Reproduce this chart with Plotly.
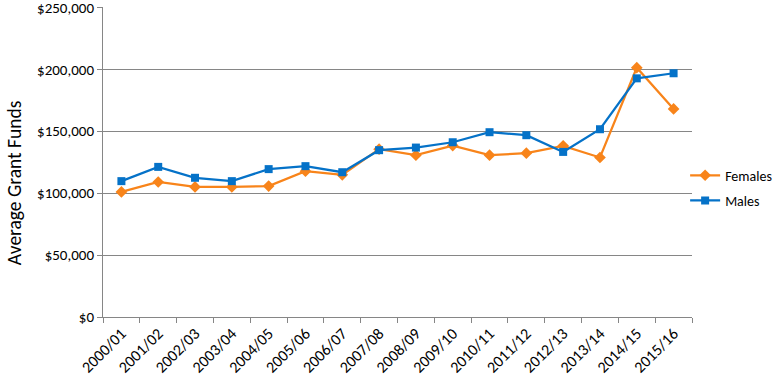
import plotly.graph_objects as go

years = ["2000/01", "2001/02", "2002/03", "2003/04", "2004/05", "2005/06", "2006/07", "2007/08",
         "2008/09", "2009/10", "2010/11", "2011/12", "2012/13", "2013/14", "2014/15", "2015/16"]
females = [101000, 109000, 105000, 105000, 105700, 117700, 114800, 135500,
           130700, 138400, 130700, 132300, 138200, 128800, 201300, 168000]
males = [109700, 121200, 112400, 109700, 119400, 121800, 116900, 134700,
         136800, 141100, 149200, 146800, 133300, 151600, 192700, 196800]
y_ticks = [0, 50000, 100000, 150000, 200000, 250000]
y_labels = ["$0", "$50,000", "$100,000", "$150,000", "$200,000", "$250,000"]
y_title = "Average Grant Funds"

FONT = "Carlito, Calibri, Lato, sans-serif"
ORANGE = "#F8841A"
BLUE = "#0572C8"

fig = go.Figure()
fig.add_trace(go.Scatter(
    x=years, y=females, name="Females", mode="lines+markers", legendgroup="f",
    line=dict(color=ORANGE, width=2.25),
    marker=dict(symbol="diamond", size=9, color=ORANGE),
))
fig.add_trace(go.Scatter(
    x=years, y=males, name="Males", mode="lines+markers", legendgroup="m",
    line=dict(color=BLUE, width=2.25),
    marker=dict(symbol="square", size=8, color=BLUE),
))

fig.update_layout(
    width=783, height=384,
    margin=dict(l=103, r=91, t=7, b=67, autoexpand=False),
    paper_bgcolor="white", plot_bgcolor="white",
    font=dict(family=FONT, size=16, color="#000000"),
    showlegend=True,
    legend=dict(xref="container", yref="container", x=0.875, xanchor="left",
                y=0.51, yanchor="middle",
                font=dict(size=14), tracegroupgap=4, traceorder="grouped",
                itemwidth=30, bgcolor="rgba(0,0,0,0)"),
    xaxis=dict(
        type="category", tickson="boundaries", ticks="outside", ticklen=5,
        tickcolor="#868686", showline=True, linecolor="#868686", linewidth=1,
        showgrid=False, tickangle=-45, tickfont=dict(size=16), automargin=False,
        range=[-0.5, len(years) - 0.5],
    ),
    yaxis=dict(
        range=[0, 250300], tickvals=y_ticks, ticktext=y_labels,
        ticks="outside", ticklen=5, tickcolor="#868686",
        showline=True, linecolor="#868686", linewidth=1,
        showgrid=True, gridcolor="#868686", gridwidth=1,
        zeroline=False, tickfont=dict(size=15), ticklabeloverflow="allow",
        automargin=False,
    ),
    annotations=[dict(
        text=y_title, textangle=-90, xref="paper", yref="paper",
        x=-0.151, y=0.432, xanchor="center", yanchor="middle",
        showarrow=False, font=dict(size=19.5, family=FONT, color="#000000"),
    )],
)

fig.write_html("out.html", config={"displayModeBar": False},
               post_script="document.body.style.margin='0';")
